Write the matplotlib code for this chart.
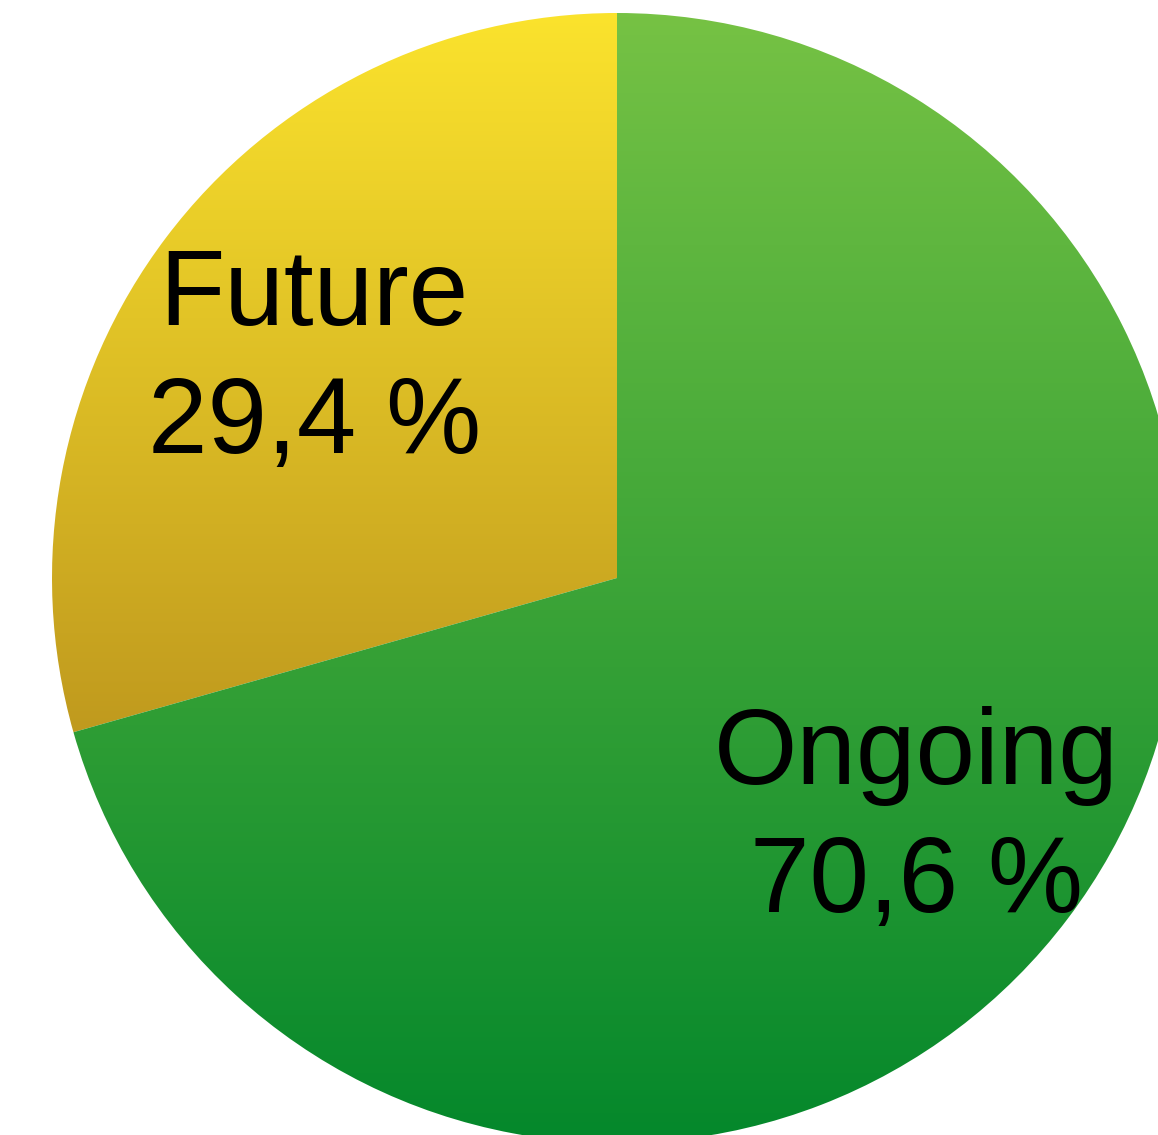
import numpy as np
import matplotlib
matplotlib.use("Agg")
import matplotlib.pyplot as plt
from matplotlib.colors import LinearSegmentedColormap

# data
labels = ["Future", "Ongoing"]
shares = [29.4, 70.6]
top_colors = ["#fbe32d", "#76c244"]
bottom_colors = ["#c09a1e", "#03872b"]

plt.rcParams["font.family"] = ["Liberation Sans", "DejaVu Sans"]

fig = plt.figure(figsize=(11.58, 11.35), dpi=100)
ax = fig.add_axes([0, 0, 1, 1])

wedges, _ = ax.pie(shares, startangle=90, counterclock=True, radius=1.0,
                   colors=top_colors, wedgeprops=dict(linewidth=0))

# vertical gradient in each wedge, spanning the wedge's own height
grad = np.linspace(0, 1, 256).reshape(-1, 1)
for w, c_top, c_bot in zip(wedges, top_colors, bottom_colors):
    w.set_facecolor("none")
    verts = w.get_path().vertices
    ymin, ymax = verts[:, 1].min(), verts[:, 1].max()
    cmap = LinearSegmentedColormap.from_list("g", [c_bot, c_top])
    im = ax.imshow(grad, cmap=cmap, origin="lower", aspect="auto",
                   extent=(-1.0, 1.0, ymin, ymax), zorder=1)
    im.set_clip_path(w)

# label text
label_pos = [(-0.536, 0.384), (0.530, -0.428)]
for lab, val, (x, y) in zip(labels, shares, label_pos):
    txt = f"{lab}\n{val:.1f} %".replace(".", ",")
    ax.text(x, y, txt, ha="center", va="center", fontsize=77,
            linespacing=1.36, color="black", zorder=3)

# place circle so it is clipped on the right and bottom like the original
r_px = 565.0
cx, cy = 617.0, 578.0
ax.set_xlim((0 - cx) / r_px, (1158 - cx) / r_px)
ax.set_ylim((cy - 1135) / r_px, (cy - 0) / r_px)
ax.set_aspect("auto")
ax.axis("off")

fig.savefig("out.png", dpi=100)
